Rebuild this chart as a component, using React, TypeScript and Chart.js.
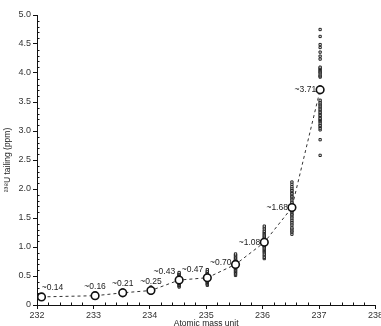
import React, { useEffect, useRef } from "react";
import { Chart, registerables } from "chart.js";

Chart.register(...registerables);

// Mean positions (atomic mass unit) and mean tailing (ppm)
const massPositions = [232.08, 233.03, 233.52, 234.02, 234.52, 235.02, 235.52, 236.03, 236.52, 237.02];
const meanTailing = [0.14, 0.16, 0.21, 0.25, 0.43, 0.47, 0.7, 1.08, 1.68, 3.71];
const meanLabels = ["~0.14", "~0.16", "~0.21", "~0.25", "~0.43", "~0.47", "~0.70", "~1.08", "~1.68", "~3.71"];

// Individual measurements per mass position
const m232 = [0.11, 0.12, 0.13, 0.14, 0.15, 0.16, 0.17, 0.18];
const m233 = [0.12, 0.13, 0.14, 0.15, 0.16, 0.17, 0.18, 0.19];
const m2335 = [0.17, 0.18, 0.19, 0.2, 0.21, 0.22, 0.23, 0.24, 0.26];
const m234 = [0.2, 0.22, 0.23, 0.24, 0.25, 0.26, 0.27, 0.28, 0.31];
const m2345 = [0.31, 0.33, 0.34, 0.36, 0.37, 0.38, 0.4, 0.41, 0.42, 0.44, 0.45, 0.46, 0.48, 0.49, 0.5, 0.52, 0.53, 0.54, 0.56];
const m235 = [0.34, 0.36, 0.37, 0.39, 0.4, 0.41, 0.43, 0.44, 0.45, 0.46, 0.48, 0.49, 0.5, 0.52, 0.53, 0.55, 0.57, 0.58, 0.61];
const m2355 = [0.51, 0.53, 0.55, 0.57, 0.58, 0.6, 0.61, 0.63, 0.64, 0.66, 0.67, 0.69, 0.71, 0.72, 0.74, 0.75, 0.77, 0.78, 0.8, 0.81, 0.83, 0.85, 0.86, 0.88];
const m236 = [0.8, 0.82, 0.85, 0.87, 0.9, 0.92, 0.94, 0.96, 0.98, 1.0, 1.02, 1.04, 1.05, 1.07, 1.09, 1.11, 1.13, 1.15, 1.17, 1.19, 1.21, 1.23, 1.25, 1.27, 1.3, 1.33, 1.36];
const m2365 = [1.22, 1.26, 1.28, 1.31, 1.33, 1.37, 1.4, 1.43, 1.46, 1.49, 1.52, 1.55, 1.57, 1.6, 1.62, 1.65, 1.67, 1.7, 1.72, 1.75, 1.77, 1.8, 1.83, 1.86, 1.88, 1.91, 1.93, 1.96, 1.98, 2.01, 2.04, 2.08, 2.12];
const m237 = [2.58, 2.85, 3.02, 3.05, 3.08, 3.1, 3.13, 3.16, 3.18, 3.2, 3.22, 3.25, 3.27, 3.3, 3.32, 3.35, 3.37, 3.4, 3.42, 3.45, 3.47, 3.5, 3.53, 3.76, 3.93, 3.95, 3.97, 4.0, 4.02, 4.04, 4.06, 4.08, 4.1, 4.24, 4.29, 4.36, 4.44, 4.49, 4.63, 4.75];
const measurements = [m232, m233, m2335, m234, m2345, m235, m2355, m236, m2365, m237];

const xTitle = "Atomic mass unit";
const yTitle = "²³⁸U tailing (ppm)";

const FONT = "'Liberation Sans', Arial, sans-serif";

const minorTicks = {
  id: "minorTicks",
  afterDraw(chart: any) {
    const { ctx, chartArea, scales } = chart;
    const x = scales.x;
    const y = scales.y;
    ctx.save();
    ctx.strokeStyle = "#111";
    ctx.lineWidth = 1;
    ctx.beginPath();
    for (let v = 1; v < 50; v++) {
      if (v % 5 === 0) continue;
      const py = Math.round(y.getPixelForValue(v / 10)) + 0.5;
      ctx.moveTo(chartArea.left, py);
      ctx.lineTo(chartArea.left + 2.5, py);
    }
    for (let v = 1; v < 30; v++) {
      if (v % 5 === 0) continue;
      const px = Math.round(x.getPixelForValue(232 + v / 5)) + 0.5;
      ctx.moveTo(px, chartArea.bottom);
      ctx.lineTo(px, chartArea.bottom - 2.5);
    }
    ctx.stroke();
    ctx.restore();
  },
};

const meanLabelPlugin = {
  id: "meanLabels",
  afterDatasetsDraw(chart: any) {
    const meta = chart.getDatasetMeta(0);
    const ctx = chart.ctx;
    ctx.save();
    ctx.font = `8.5px ${FONT}`;
    ctx.fillStyle = "#222";
    ctx.textBaseline = "middle";
    meta.data.forEach((pt: any, i: number) => {
      const { x, y } = pt.getProps(["x", "y"], true);
      if (i < 4) {
        ctx.textAlign = "center";
        ctx.fillText(meanLabels[i], x + (i === 0 ? 11 : 0), y - 9);
      } else {
        ctx.textAlign = "right";
        const dy = i < 6 ? -8 : i === 6 ? -2 : 0;
        ctx.fillText(meanLabels[i], x - 4, y + dy);
      }
    });
    ctx.restore();
  },
};

export default function App() {
  const ref = useRef<HTMLCanvasElement>(null);
  useEffect(() => {
    document.body.style.margin = "0";
    const points: { x: number; y: number }[] = [];
    measurements.forEach((arr, i) => arr.forEach((v) => points.push({ x: massPositions[i], y: v })));
    const means = massPositions.map((m, i) => ({ x: m, y: meanTailing[i] }));
    const chart = new Chart(ref.current as HTMLCanvasElement, {
      type: "scatter",
      data: {
        datasets: [
          {
            data: means,
            showLine: true,
            borderColor: "#333",
            borderWidth: 1,
            borderDash: [3, 3],
            pointRadius: 3.8,
            pointBackgroundColor: "#fff",
            pointBorderColor: "#111",
            pointBorderWidth: 1.6,
          },
          {
            data: points,
            showLine: false,
            pointStyle: "rect",
            pointRadius: 1.6,
            pointBackgroundColor: "#fff",
            pointBorderColor: "#222",
            pointBorderWidth: 1,
          },
        ],
      },
      options: {
        responsive: false,
        animation: false,
        layout: { padding: { top: 15, right: 1, left: 0, bottom: 0 } },
        plugins: { legend: { display: false }, tooltip: { enabled: false } },
        scales: {
          x: {
            type: "linear",
            min: 232,
            max: 238,
            ticks: { stepSize: 1, color: "#333", font: { family: FONT, size: 9 }, padding: 1, maxRotation: 0 },
            grid: { drawOnChartArea: false, drawTicks: true, tickLength: 4, color: "#111" },
            border: { display: true, color: "#111", width: 1 },
            title: { display: true, text: xTitle, color: "#222", font: { family: FONT, size: 8.5 }, padding: { top: 0, bottom: -3 } },
            afterFit(scale: any) {
              scale.height = 21;
              scale.paddingLeft = 0;
              scale.paddingRight = 0;
            },
          },
          y: {
            min: 0,
            max: 5,
            ticks: {
              stepSize: 0.5,
              color: "#333",
              font: { family: FONT, size: 9 },
              padding: 2,
              callback: (v: any) => (Number(v) === 0 ? "0" : Number(v).toFixed(1)),
            },
            grid: { drawOnChartArea: false, drawTicks: true, tickLength: 4, color: "#111" },
            border: { display: true, color: "#111", width: 1 },
            title: { display: true, text: yTitle, color: "#222", font: { family: FONT, size: 8.5 }, padding: { top: 3, bottom: 0 } },
            afterFit(scale: any) {
              scale.width = 37;
              scale.paddingTop = 0;
              scale.paddingBottom = 0;
            },
          },
        },
      },
      plugins: [minorTicks, meanLabelPlugin],
    });
    return () => chart.destroy();
  }, []);
  return (
    <div style={{ width: 381, height: 326 }}>
      <canvas ref={ref} width={381} height={326} />
    </div>
  );
}
